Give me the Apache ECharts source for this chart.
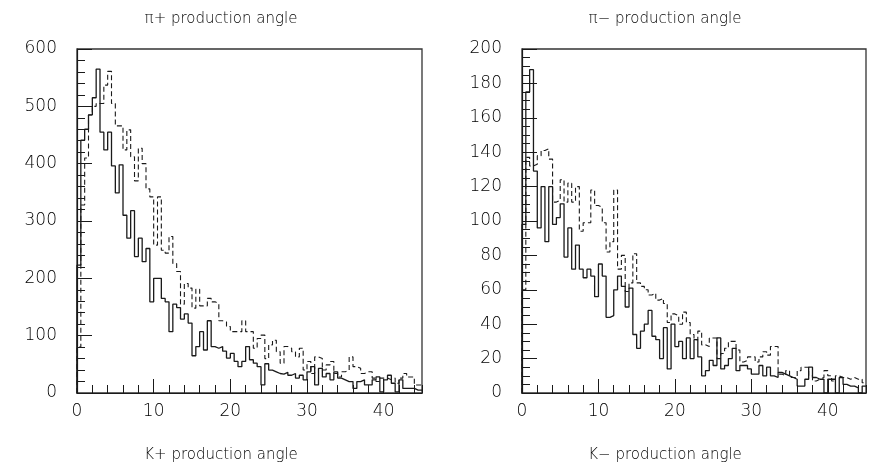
<!DOCTYPE html>
<html>
<head>
<meta charset="utf-8">
<script src="https://cdn.jsdelivr.net/npm/echarts@6/dist/echarts.min.js"></script>
<style>html,body{margin:0;padding:0;background:#fff}#c{width:872px;height:472px}</style>
</head>
<body>
<div id="c"></div>
<script>
// bin width (degrees) and histogram contents, 90 bins from 0 to 45
const binWidth = 0.5;

// Left panel (pi+ / K+): solid and dashed histograms
const leftSolid = [223,441,460,485,515,565,455,424,455,396,349,398,310,270,318,238,270,229,252,159,
  200,200,165,159,107,155,149,129,138,122,65,81,107,75,126,81,78,81,73,61,
  69,55,46,55,81,58,52,46,14,51,40,37,34,33,36,31,34,26,31,23,
  37,46,14,43,28,34,23,37,26,23,20,20,8,20,23,14,14,23,28,2,
  23,31,17,2,23,8,8,8,5,5];
const leftDashed = [80,328,410,485,500,505,505,537,561,505,466,466,424,459,412,370,427,400,356,342,
  258,342,249,244,273,226,212,155,191,183,148,181,152,152,165,159,156,126,124,116,
  107,107,107,126,107,107,78,95,101,60,84,92,72,52,81,78,72,63,78,40,
  55,34,63,60,40,49,55,34,28,37,40,63,46,43,34,37,37,26,20,26,
  26,23,26,17,26,34,28,28,14,14];

// Right panel (pi- / K-): solid and dashed histograms
const rightSolid = [98,175,188,129,96,120,88,120,98,102,110,79,96,72,86,72,67,72,68,56,
  75,68,44,45,60,68,62,50,61,34,26,36,40,48,33,31,20,38,14,40,
  27,30,20,32,20,31,21,10,13,19,16,32,14,16,20,26,13,16,16,14,
  11,11,16,10,15,10,9,12,11,10,9,8,4,4,8,15,9,8,8,0,
  8,8,0,9,5,4,4,3,0,4];
const rightDashed = [60,137,132,133,138,141,142,136,111,112,124,111,122,111,120,94,99,99,118,109,
  108,99,82,88,118,72,80,59,64,81,64,62,60,57,58,54,55,52,41,46,
  45,40,47,41,34,31,36,28,27,32,32,20,23,26,30,30,25,18,19,21,
  21,18,21,24,22,27,27,11,10,13,9,9,13,15,15,10,7,8,9,13,
  10,7,10,9,9,8,9,8,8,6];

const titlesTop = ['\u03C0+ production angle', '\u03C0\u2212 production angle'];
const titlesBottom = ['K+ production angle', 'K\u2212 production angle'];

function stepData(vals) {
  const d = [[0, 0]];
  for (let i = 0; i < vals.length; i++) d.push([i * binWidth, vals[i]]);
  d.push([vals.length * binWidth, vals[vals.length - 1]]);
  return d;
}

const FONT = 'DejaVu Sans';
const INK = '#1a1a1a';
const TXT = '#000';

function xAxesFor(gi) {
  return [
    {
      gridIndex: gi, type: 'value', min: 0, max: 45, interval: 10, position: 'bottom',
      axisLine: {show: true, onZero: false, lineStyle: {color: INK, width: 1.2}},
      axisTick: {show: true, inside: true, length: 14, lineStyle: {color: INK, width: 1}},
      axisLabel: {show: true, margin: 10, fontFamily: FONT, fontWeight: 200, fontSize: 17, color: TXT, showMaxLabel: false},
      splitLine: {show: false}
    },
    {
      gridIndex: gi, type: 'value', min: 0, max: 45, interval: 2, position: 'bottom',
      axisLine: {show: false, onZero: false},
      axisTick: {show: true, inside: true, length: 8, lineStyle: {color: INK, width: 1}},
      axisLabel: {show: false},
      splitLine: {show: false}
    }
  ];
}

function yAxisFor(gi, max, interval, minorSplit) {
  return {
    gridIndex: gi, type: 'value', min: 0, max: max, interval: interval,
    axisLine: {show: true, onZero: false, lineStyle: {color: INK, width: 1.2}},
    axisTick: {show: true, inside: true, length: 15, lineStyle: {color: INK, width: 1}},
    minorTick: {show: true, splitNumber: minorSplit, length: 8, lineStyle: {color: INK, width: 1}},
    axisLabel: {show: true, margin: 20, fontFamily: FONT, fontWeight: 200, fontSize: 17, color: TXT},
    splitLine: {show: false}
  };
}

function series(vals, xi, yi, dashed) {
  return {
    type: 'line', xAxisIndex: xi, yAxisIndex: yi, step: 'end', symbol: 'none',
    data: stepData(vals), animation: false, silent: true,
    lineStyle: {color: INK, width: dashed ? 1.1 : 1.3, type: dashed ? [5, 3] : 'solid'}
  };
}

const TFONT = '200 15px "DejaVu Sans"';
const chart = echarts.init(document.getElementById('c'), null, {renderer: 'canvas'});
chart.setOption({
  backgroundColor: '#fff',
  animation: false,
  grid: [
    {left: 77, top: 49, width: 345, height: 344, show: true, borderColor: '#333', borderWidth: 1.3, backgroundColor: 'transparent'},
    {left: 522, top: 49, width: 344, height: 344, show: true, borderColor: '#333', borderWidth: 1.3, backgroundColor: 'transparent'}
  ],
  xAxis: xAxesFor(0).concat(xAxesFor(1)),
  yAxis: [yAxisFor(0, 600, 100, 5), yAxisFor(1, 200, 20, 4)],
  series: [
    series(leftSolid, 0, 0, false),
    series(leftDashed, 0, 0, true),
    series(rightSolid, 2, 1, false),
    series(rightDashed, 2, 1, true)
  ],
  graphic: [
    {type: 'text', x: 221, y: 19, style: {text: titlesTop[0], textAlign: 'center', textVerticalAlign: 'middle', font: TFONT, fill: TXT}},
    {type: 'text', x: 665, y: 19, style: {text: titlesTop[1], textAlign: 'center', textVerticalAlign: 'middle', font: TFONT, fill: TXT}},
    {type: 'text', x: 221, y: 455, style: {text: titlesBottom[0], textAlign: 'center', textVerticalAlign: 'middle', font: TFONT, fill: TXT}},
    {type: 'text', x: 665, y: 455, style: {text: titlesBottom[1], textAlign: 'center', textVerticalAlign: 'middle', font: TFONT, fill: TXT}}
  ]
});
</script>
</body>
</html>
